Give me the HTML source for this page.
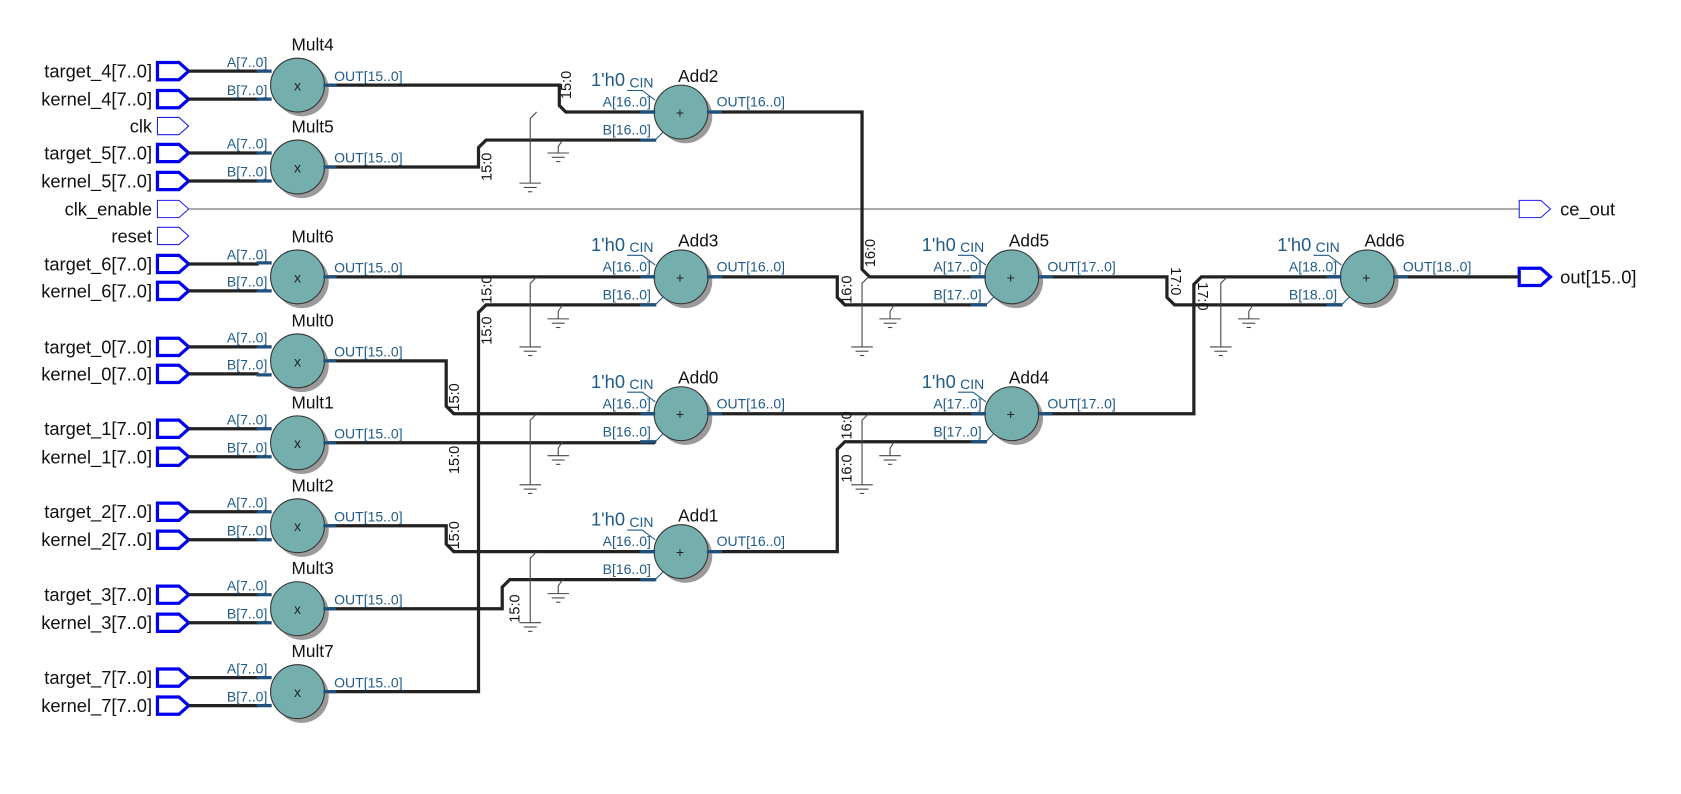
<!DOCTYPE html>
<html><head><meta charset="utf-8"><style>
html,body{margin:0;padding:0;background:#fff;}
svg{display:block;}
text{font-family:"Liberation Sans",sans-serif;}
.pl{font-size:17px;fill:#111;text-anchor:end;}
.nm{font-size:16px;fill:#111;text-anchor:middle;}
.pt{font-size:13px;fill:#1f5a8a;}
.pe{font-size:13px;fill:#1f5a8a;text-anchor:end;}
.h0{font-size:17px;fill:#1f5a8a;text-anchor:end;}
.sp{font-size:13.5px;fill:#111;}
.w{stroke:#222;stroke-width:3;fill:none;}
.g{stroke:#444;stroke-width:1;fill:none;}
.bl{stroke:#1f4f7a;stroke-width:3;fill:none;}
.ci{fill:#74afae;stroke:#333;stroke-width:1;}
.sh{fill:#9a9a9a;}
.pth{fill:#fff;stroke:#0000ee;stroke-width:3;}
.ptn{fill:#fff;stroke:#2222ee;stroke-width:1;}
.op{font-size:13px;fill:#222;text-anchor:middle;}
</style></head><body>
<svg width="1681" height="794" viewBox="0 0 1560 737" xmlns="http://www.w3.org/2000/svg">
<defs>
<g id="gnd"><line x1="-10" y1="0" x2="10" y2="0" class="g"/><line x1="-6" y1="4" x2="6" y2="4" class="g"/><line x1="-2" y1="8" x2="2" y2="8" class="g"/></g>
<g id="ph"><polygon points="0,-8 20,-8 29,0 20,8 0,8" class="pth"/></g>
<g id="pn"><polygon points="0,-8 20,-8 29,0 20,8 0,8" class="ptn"/></g>
<g id="add">
<path class="g" style="stroke:#1f5a8a" d="M-50,-20H-36L-24,-11M-24,26L-17,19"/>
<circle class="sh" cx="4" cy="4" r="25"/><circle class="ci" cx="0" cy="0" r="25"/><text class="op" x="-1" y="5">+</text>
<path class="bl" d="M-38,0H-24M-38,26H-23M24,0H38"/>
</g>
<g id="mul">
<circle class="sh" cx="4" cy="4" r="25"/><circle class="ci" cx="0" cy="0" r="25"/><text class="op" x="0" y="5">x</text>
<path class="bl" d="M-38,-13H-24M-38,13H-24M24,0H36"/>
</g>
</defs>

<!-- input ports -->
<g>
<use href="#ph" x="146" y="66"/><text class="pl" x="141" y="72">target_4[7..0]</text>
<use href="#ph" x="146" y="92"/><text class="pl" x="141" y="98">kernel_4[7..0]</text>
<use href="#pn" x="146" y="117"/><text class="pl" x="141" y="123">clk</text>
<use href="#ph" x="146" y="142"/><text class="pl" x="141" y="148">target_5[7..0]</text>
<use href="#ph" x="146" y="168"/><text class="pl" x="141" y="174">kernel_5[7..0]</text>
<use href="#pn" x="146" y="194"/><text class="pl" x="141" y="200">clk_enable</text>
<use href="#pn" x="146" y="219"/><text class="pl" x="141" y="225">reset</text>
<use href="#ph" x="146" y="245"/><text class="pl" x="141" y="251">target_6[7..0]</text>
<use href="#ph" x="146" y="270"/><text class="pl" x="141" y="276">kernel_6[7..0]</text>
<use href="#ph" x="146" y="322"/><text class="pl" x="141" y="328">target_0[7..0]</text>
<use href="#ph" x="146" y="347"/><text class="pl" x="141" y="353">kernel_0[7..0]</text>
<use href="#ph" x="146" y="398"/><text class="pl" x="141" y="404">target_1[7..0]</text>
<use href="#ph" x="146" y="424"/><text class="pl" x="141" y="430">kernel_1[7..0]</text>
<use href="#ph" x="146" y="475"/><text class="pl" x="141" y="481">target_2[7..0]</text>
<use href="#ph" x="146" y="501"/><text class="pl" x="141" y="507">kernel_2[7..0]</text>
<use href="#ph" x="146" y="552"/><text class="pl" x="141" y="558">target_3[7..0]</text>
<use href="#ph" x="146" y="578"/><text class="pl" x="141" y="584">kernel_3[7..0]</text>
<use href="#ph" x="146" y="629"/><text class="pl" x="141" y="635">target_7[7..0]</text>
<use href="#ph" x="146" y="655"/><text class="pl" x="141" y="661">kernel_7[7..0]</text>
</g>

<line x1="175" y1="194" x2="1410" y2="194" stroke="#555" stroke-width="1"/>
<use href="#pn" x="1410" y="194"/><text x="1448" y="200" style="font-size:17px;fill:#111">ce_out</text>
<use href="#ph" x="1410" y="257"/><text x="1448" y="263" style="font-size:17px;fill:#111">out[15..0]</text>

<!-- mult input wires -->
<path class="w" d="M175 66H240M175 92H240M175 142H240M175 168H240M175 245H240M175 270H240M175 322H240M175 347H240M175 398H240M175 424H240M175 475H240M175 501H240M175 552H240M175 578H240M175 629H240M175 655H240"/>

<!-- wires -->
<g class="w">
<path d="M302 79H519V98L525 104H608"/>
<path d="M302 155H444V137L451 130H608"/>
<path d="M658 104H800V250L807 257H915"/>
<path d="M302 257H608"/>
<path d="M302 642H444V290L451 283H608"/>
<path d="M302 335H414V377L421 384H608"/>
<path d="M302 411H608"/>
<path d="M302 488H414V505L421 512H608"/>
<path d="M302 565H466V545L473 538H608"/>
<path d="M658 257H777V276L784 283H915"/>
<path d="M658 384H915"/>
<path d="M658 512H777V417L784 410H915"/>
<path d="M965 257H1083V276L1090 283H1245"/>
<path d="M965 384H1108V264L1115 257H1245"/>
<path d="M1295 257H1410"/>
</g>

<!-- split labels -->
<g class="sp">
<text transform="translate(530,92) rotate(-90)">15:0</text>
<text transform="translate(456,168) rotate(-90)">15:0</text>
<text transform="translate(812,248) rotate(-90)">16:0</text>
<text transform="translate(456,282) rotate(-90)">15:0</text>
<text transform="translate(456,320) rotate(-90)">15:0</text>
<text transform="translate(426,382) rotate(-90)">15:0</text>
<text transform="translate(426,440) rotate(-90)">15:0</text>
<text transform="translate(426,510) rotate(-90)">15:0</text>
<text transform="translate(482,578) rotate(-90)">15:0</text>
<text transform="translate(790,282) rotate(-90)">16:0</text>
<text transform="translate(790,408) rotate(-90)">16:0</text>
<text transform="translate(790,448) rotate(-90)">16:0</text>
<text transform="translate(1087,248) rotate(90)">17:0</text>
<text transform="translate(1112,262) rotate(90)">17:0</text>
</g>

<!-- grounds -->
<g class="g">
<path d="M498 104L492 110V170"/><use href="#gnd" x="492" y="170"/>
<path d="M522 130L518 136V142"/><use href="#gnd" x="518" y="142"/>
<path d="M498 257L492 263V322"/><use href="#gnd" x="492" y="322"/>
<path d="M522 283L518 289V296"/><use href="#gnd" x="518" y="296"/>
<path d="M498 384L492 390V450"/><use href="#gnd" x="492" y="450"/>
<path d="M522 410L518 416V423"/><use href="#gnd" x="518" y="423"/>
<path d="M498 512L492 518V578"/><use href="#gnd" x="492" y="578"/>
<path d="M522 538L518 544V551"/><use href="#gnd" x="518" y="551"/>
<path d="M806 257L800 263V322"/><use href="#gnd" x="800" y="322"/>
<path d="M830 283L826 289V296"/><use href="#gnd" x="826" y="296"/>
<path d="M806 384L800 390V450"/><use href="#gnd" x="800" y="450"/>
<path d="M830 410L826 416V423"/><use href="#gnd" x="826" y="423"/>
<path d="M1139 257L1133 263V322"/><use href="#gnd" x="1133" y="322"/>
<path d="M1163 283L1159 289V296"/><use href="#gnd" x="1159" y="296"/>
</g>

<!-- Mults -->
<g>
<use href="#mul" x="276" y="79"/><text class="nm" x="290" y="47">Mult4</text><text class="pe" x="248" y="62">A[7..0]</text><text class="pe" x="248" y="88">B[7..0]</text><text class="pt" x="310" y="75">OUT[15..0]</text>
<use href="#mul" x="276" y="155"/><text class="nm" x="290" y="123">Mult5</text><text class="pe" x="248" y="138">A[7..0]</text><text class="pe" x="248" y="164">B[7..0]</text><text class="pt" x="310" y="151">OUT[15..0]</text>
<use href="#mul" x="276" y="257"/><text class="nm" x="290" y="225">Mult6</text><text class="pe" x="248" y="241">A[7..0]</text><text class="pe" x="248" y="266">B[7..0]</text><text class="pt" x="310" y="253">OUT[15..0]</text>
<use href="#mul" x="276" y="335"/><text class="nm" x="290" y="303">Mult0</text><text class="pe" x="248" y="318">A[7..0]</text><text class="pe" x="248" y="343">B[7..0]</text><text class="pt" x="310" y="331">OUT[15..0]</text>
<use href="#mul" x="276" y="411"/><text class="nm" x="290" y="379">Mult1</text><text class="pe" x="248" y="394">A[7..0]</text><text class="pe" x="248" y="420">B[7..0]</text><text class="pt" x="310" y="407">OUT[15..0]</text>
<use href="#mul" x="276" y="488"/><text class="nm" x="290" y="456">Mult2</text><text class="pe" x="248" y="471">A[7..0]</text><text class="pe" x="248" y="497">B[7..0]</text><text class="pt" x="310" y="484">OUT[15..0]</text>
<use href="#mul" x="276" y="565"/><text class="nm" x="290" y="533">Mult3</text><text class="pe" x="248" y="548">A[7..0]</text><text class="pe" x="248" y="574">B[7..0]</text><text class="pt" x="310" y="561">OUT[15..0]</text>
<use href="#mul" x="276" y="642"/><text class="nm" x="290" y="610">Mult7</text><text class="pe" x="248" y="625">A[7..0]</text><text class="pe" x="248" y="651">B[7..0]</text><text class="pt" x="310" y="638">OUT[15..0]</text>
</g>

<!-- Adders -->
<g>
<use href="#add" x="632" y="104"/><text class="nm" x="648" y="76">Add2</text><text class="h0" x="580" y="80">1'h0</text><text class="pt" x="584" y="81">CIN</text>
<text class="pe" x="604" y="99">A[16..0]</text><text class="pe" x="604" y="125">B[16..0]</text><text class="pt" x="665" y="99">OUT[16..0]</text>

<use href="#add" x="632" y="257"/><text class="nm" x="648" y="229">Add3</text><text class="h0" x="580" y="233">1'h0</text><text class="pt" x="584" y="234">CIN</text>
<text class="pe" x="604" y="252">A[16..0]</text><text class="pe" x="604" y="278">B[16..0]</text><text class="pt" x="665" y="252">OUT[16..0]</text>

<use href="#add" x="632" y="384"/><text class="nm" x="648" y="356">Add0</text><text class="h0" x="580" y="360">1'h0</text><text class="pt" x="584" y="361">CIN</text>
<text class="pe" x="604" y="379">A[16..0]</text><text class="pe" x="604" y="405">B[16..0]</text><text class="pt" x="665" y="379">OUT[16..0]</text>

<use href="#add" x="632" y="512"/><text class="nm" x="648" y="484">Add1</text><text class="h0" x="580" y="488">1'h0</text><text class="pt" x="584" y="489">CIN</text>
<text class="pe" x="604" y="507">A[16..0]</text><text class="pe" x="604" y="533">B[16..0]</text><text class="pt" x="665" y="507">OUT[16..0]</text>

<use href="#add" x="939" y="257"/><text class="nm" x="955" y="229">Add5</text><text class="h0" x="887" y="233">1'h0</text><text class="pt" x="891" y="234">CIN</text>
<text class="pe" x="911" y="252">A[17..0]</text><text class="pe" x="911" y="278">B[17..0]</text><text class="pt" x="972" y="252">OUT[17..0]</text>

<use href="#add" x="939" y="384"/><text class="nm" x="955" y="356">Add4</text><text class="h0" x="887" y="360">1'h0</text><text class="pt" x="891" y="361">CIN</text>
<text class="pe" x="911" y="379">A[17..0]</text><text class="pe" x="911" y="405">B[17..0]</text><text class="pt" x="972" y="379">OUT[17..0]</text>

<use href="#add" x="1269" y="257"/><text class="nm" x="1285" y="229">Add6</text><text class="h0" x="1217" y="233">1'h0</text><text class="pt" x="1221" y="234">CIN</text>
<text class="pe" x="1241" y="252">A[18..0]</text><text class="pe" x="1241" y="278">B[18..0]</text><text class="pt" x="1302" y="252">OUT[18..0]</text>
</g>
</svg>
</body></html>
